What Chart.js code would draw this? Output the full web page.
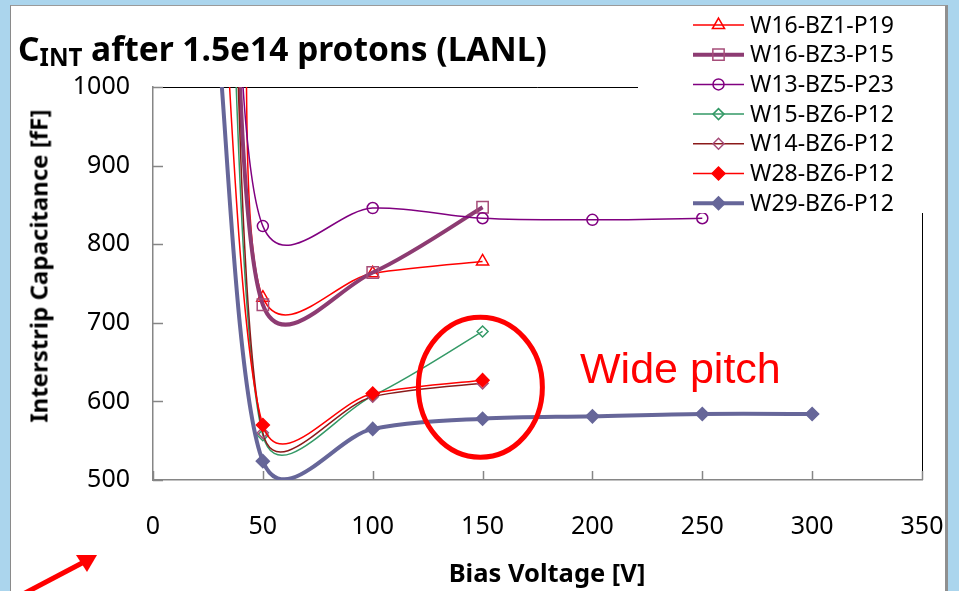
<!DOCTYPE html>
<html>
<head>
<meta charset="utf-8">
<script src="https://cdn.jsdelivr.net/npm/chart.js@4.4.1/dist/chart.umd.min.js"></script>
<style>
  html, body { margin: 0; padding: 0; width: 959px; height: 591px; overflow: hidden; background: #abd5ed; font-family: 'Noto Sans', sans-serif; }
  .slide { position: absolute; left: 10px; top: 5px; width: 934px; height: 600px; background: #fff;
           border-left: 1px solid #8a8a8a; border-top: 1px solid #9a9a9a; border-right: 3px solid #8f8f8f; }
  #wrap { position: absolute; left: 0; top: 0; width: 959px; height: 591px; }
  .title { position: absolute; left: 18px; top: 32px; font-weight: 700; font-size: 33.5px; line-height: 1; white-space: nowrap; color: #000; }
  .title sub { font-size: 0.72em; vertical-align: baseline; position: relative; top: 0.22em; }
  .ytitle { position: absolute; left: 38px; top: 266px; transform: translate(-50%, -50%) rotate(-90deg);
            font-weight: 700; font-size: 24px; white-space: nowrap; }
  .xtitle { position: absolute; left: 547px; top: 572px; transform: translate(-50%, -50%);
            font-weight: 700; font-size: 25.5px; white-space: nowrap; }
  .note { position: absolute; left: 580px; top: 347px; color: #ff0000; font-family: 'Liberation Sans', Arial, sans-serif;
          font-size: 43px; line-height: 1; white-space: nowrap; }
  svg.arrow { position: absolute; left: 0; top: 0; }
</style>
</head>
<body>
<div class="slide"></div>
<div id="wrap"><canvas id="cintChart" width="959" height="591"></canvas></div>
<div class="title">C<sub>INT</sub> after 1.5e14 protons (LANL)</div>
<div class="ytitle">Interstrip Capacitance [fF]</div>
<div class="xtitle">Bias Voltage [V]</div>
<div class="note">Wide pitch</div>
<svg class="arrow" width="959" height="591">
  <line x1="8" y1="602" x2="84" y2="562" stroke="#ff0000" stroke-width="5"/>
  <polygon points="97,555 76,555 87,572" fill="#ff0000"/>
</svg>
<script>
// Interstrip capacitance vs bias voltage, sensors after 1.5e14 p (LANL)
const seriesNames = ['W16-BZ1-P19', 'W16-BZ3-P15', 'W13-BZ5-P23', 'W15-BZ6-P12', 'W14-BZ6-P12', 'W28-BZ6-P12', 'W29-BZ6-P12'];

const vW16BZ1 = [42, 50, 100, 150];
const cW16BZ1 = [1130, 732, 763, 778];
const vW16BZ3 = [36, 50, 100, 150];
const cW16BZ3 = [1250, 723, 764, 847];
const vW13BZ5 = [36, 50, 100, 150, 200, 250];
const cW13BZ5 = [1280, 823, 846, 833, 831, 833];
const vW15BZ6 = [34, 50, 100, 150];
const cW15BZ6 = [1300, 557, 607, 689];
const vW14BZ6 = [35, 50, 100, 150];
const cW14BZ6 = [1350, 560, 606, 623];
const vW28BZ6 = [30, 50, 100, 150];
const cW28BZ6 = [1240, 570, 610, 627];
const vW29BZ6 = [30, 50, 100, 150, 200, 250, 300];
const cW29BZ6 = [1045, 524, 565, 578, 581, 584, 584];

const xTicks = [0, 50, 100, 150, 200, 250, 300, 350];
const yTicks = [500, 600, 700, 800, 900, 1000];

const pts = (vs, cs) => vs.map((v, i) => ({ x: v, y: cs[i] }));

Chart.defaults.font.family = "'Noto Sans', sans-serif";
Chart.defaults.color = '#000';

function series(i, vs, cs, color, width, style, radius, markerColor, fill) {
    return {
        label: seriesNames[i],
        data: pts(vs, cs),
        borderColor: color,
        borderWidth: width,
        pointStyle: style,
        pointRadius: radius,
        pointHoverRadius: radius,
        pointBorderColor: markerColor,
        pointBackgroundColor: fill,
        pointBorderWidth: 1.5,
        tension: 0.4,
        order: 10 - i
    };
}

const datasets = [
    series(0, vW16BZ1, cW16BZ1, '#ff0000', 1.5, 'triangle', 7, '#ff0000', 'rgba(0,0,0,0)'),
    series(1, vW16BZ3, cW16BZ3, '#8d3b72', 4, 'rect', 8, '#a64d79', 'rgba(0,0,0,0)'),
    series(2, vW13BZ5, cW13BZ5, '#800080', 1.5, 'circle', 5.5, '#800080', 'rgba(0,0,0,0)'),
    series(3, vW15BZ6, cW15BZ6, '#339966', 1.5, 'rectRot', 5.5, '#339966', 'rgba(0,0,0,0)'),
    series(4, vW14BZ6, cW14BZ6, '#8b1a1a', 1.5, 'rectRot', 5.5, '#a64d79', 'rgba(0,0,0,0)'),
    series(5, vW28BZ6, cW28BZ6, '#ff0000', 1.5, 'rectRot', 6.5, '#ff0000', '#ff0000'),
    series(6, vW29BZ6, cW29BZ6, '#666699', 4, 'rectRot', 6.5, '#666699', '#666699')
];

// spreadsheet-style smoothing: handles along 1/6 of the neighbour chord,
// each one capped at half the length of the segment it points into
const smoothLines = {
    id: 'smoothLines',
    beforeDatasetsDraw(chart) {
        chart.getSortedVisibleDatasetMetas().forEach(meta => {
            meta.dataset.updateControlPoints(chart.chartArea, meta.iScale.axis);
            const p = meta.data;
            for (let i = 0; i < p.length; i++) {
                const cur = p[i];
                const prev = p[Math.max(i - 1, 0)];
                const next = p[Math.min(i + 1, p.length - 1)];
                const vx = (next.x - prev.x) / 6;
                const vy = (next.y - prev.y) / 6;
                const len = Math.hypot(vx, vy) || 1;
                const s1 = Math.min(1, Math.hypot(cur.x - prev.x, cur.y - prev.y) / 2 / len);
                const s2 = Math.min(1, Math.hypot(next.x - cur.x, next.y - cur.y) / 2 / len);
                cur.cp1x = cur.x - s1 * vx;
                cur.cp1y = cur.y - s1 * vy;
                cur.cp2x = cur.x + s2 * vx;
                cur.cp2y = cur.y + s2 * vy;
            }
        });
    }
};

// plot frame, inward ticks, "wide pitch" ellipse and the legend box
const decorations = {
    id: 'decorations',
    beforeDatasetsDraw(chart) {
        const { ctx, chartArea: a, scales: { x, y } } = chart;
        ctx.save();
        ctx.strokeStyle = '#000';
        ctx.lineWidth = 1;
        ctx.beginPath();
        ctx.moveTo(a.left, a.top + 0.5);
        ctx.lineTo(a.right + 0.5, a.top + 0.5);
        ctx.lineTo(a.right + 0.5, a.bottom);
        ctx.stroke();
        ctx.strokeStyle = '#868686';
        ctx.lineWidth = 1.5;
        ctx.beginPath();
        yTicks.forEach(t => {
            const py = Math.round(y.getPixelForValue(t)) + 0.5;
            ctx.moveTo(a.left, py);
            ctx.lineTo(a.left + 10, py);
        });
        xTicks.forEach(t => {
            const px = Math.round(x.getPixelForValue(t)) + 0.5;
            ctx.moveTo(px, a.bottom);
            ctx.lineTo(px, a.bottom - 9);
        });
        ctx.stroke();
        ctx.restore();
    },
    afterDatasetsDraw(chart) {
        const { ctx, scales: { x, y } } = chart;
        ctx.save();
        ctx.strokeStyle = '#ff0000';
        ctx.lineWidth = 5;
        ctx.beginPath();
        ctx.ellipse(x.getPixelForValue(149), y.getPixelForValue(618), 62, 70, 0, 0, Math.PI * 2);
        ctx.stroke();

        ctx.fillStyle = '#fff';
        ctx.fillRect(638, 6, 300, 207);
        chart.data.datasets.forEach((ds, i) => {
            const cy = 25 + i * 29.7;
            ctx.strokeStyle = ds.borderColor;
            ctx.lineWidth = ds.borderWidth;
            ctx.beginPath();
            ctx.moveTo(693, cy);
            ctx.lineTo(744, cy);
            ctx.stroke();
            ctx.fillStyle = ds.pointBackgroundColor;
            ctx.strokeStyle = ds.pointBorderColor;
            ctx.lineWidth = ds.pointBorderWidth;
            Chart.helpers.drawPoint(ctx, { pointStyle: ds.pointStyle, radius: ds.pointRadius, borderWidth: ds.pointBorderWidth, rotation: 0 }, 718.5, cy);
            ctx.fillStyle = '#000';
            ctx.font = "23px 'Noto Sans', sans-serif";
            ctx.textBaseline = 'middle';
            ctx.textAlign = 'left';
            ctx.fillText(ds.label, 750, cy + 1);
        });
        ctx.restore();
    }
};

new Chart(document.getElementById('cintChart'), {
    type: 'line',
    data: { datasets },
    options: {
        responsive: false,
        animation: false,
        layout: { padding: { left: 12, top: 87, right: 37, bottom: 0 } },
        plugins: { legend: { display: false }, tooltip: { enabled: false } },
        scales: {
            x: {
                type: 'linear',
                min: 0, max: 350,
                afterFit: s => { s.height = 111; s.paddingLeft = 0; s.paddingRight = 0; },
                afterBuildTicks: s => { s.ticks = xTicks.map(v => ({ value: v })); },
                grid: { display: false, drawTicks: false },
                border: { display: true, color: '#868686', width: 1.5 },
                ticks: { padding: 32, maxRotation: 0, font: { size: 25 }, color: '#000', callback: v => String(v) }
            },
            y: {
                min: 500, max: 1000,
                afterFit: s => { s.width = 141; s.paddingTop = 0; s.paddingBottom = 0; },
                afterBuildTicks: s => { s.ticks = yTicks.map(v => ({ value: v })); },
                grid: { display: false, drawTicks: false },
                border: { display: true, color: '#868686', width: 1.5 },
                ticks: { padding: 23, font: { size: 25 }, color: '#000', callback: v => String(v) }
            }
        }
    },
    plugins: [smoothLines, decorations]
});
</script>
</body>
</html>
